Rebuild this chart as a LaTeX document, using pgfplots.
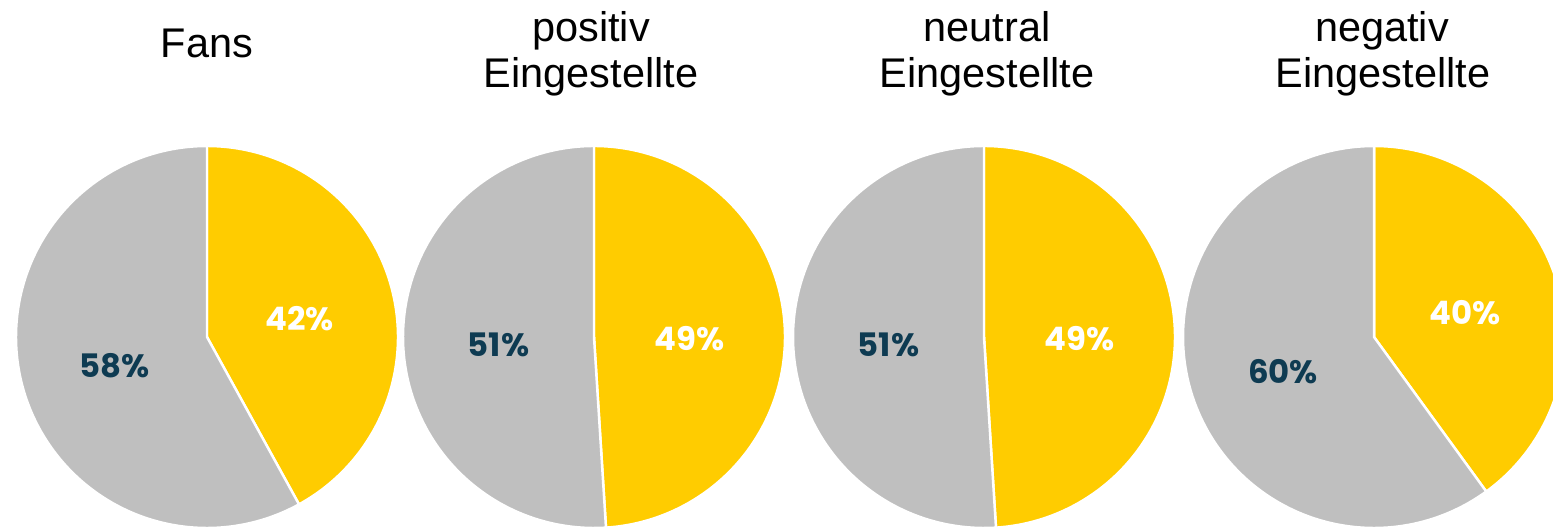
\documentclass[border=0pt]{standalone}
\usepackage{pgfplots}
\pgfplotsset{compat=1.18}
\usepackage{fontspec}
\setmainfont{Liberation Sans}
\newfontfamily\labelfont{Poppins}
\definecolor{pieyellow}{HTML}{FFCC00}
\definecolor{piegray}{HTML}{BFBFBF}
\definecolor{piedark}{HTML}{0E3B52}

% #1 cx (mm), #2 cy (mm), #3 yellow share, #4 gray share
\newcommand{\pie}[4]{%
\pgfmathsetmacro{\aend}{90-3.6*#3}%
\pgfmathsetmacro{\gend}{90-3.6*#3-3.6*#4}%
\pgfmathsetmacro{\ymid}{90-1.8*#3}%
\pgfmathsetmacro{\gmid}{90-3.6*#3-1.8*#4}%
\begin{axis}[at={(#1,#2)}, anchor=center, scale only axis,
  width=38.2mm, height=38.2mm, xmin=-1, xmax=1, ymin=-1, ymax=1,
  hide axis, clip=false]
\addplot[fill=pieyellow, draw=white, line width=0.7pt, domain=\aend:90,
  samples=181, variable=\t] ({cos(\t)},{sin(\t)}) -- (axis cs:0,0) -- cycle;
\addplot[fill=piegray, draw=white, line width=0.7pt, domain=\gend:\aend,
  samples=181, variable=\t] ({cos(\t)},{sin(\t)}) -- (axis cs:0,0) -- cycle;
\node[font=\labelfont\bfseries\fontsize{9.2}{11}\selectfont, text=white, yshift=-0.5mm]
  at (axis cs:{0.5*cos(\ymid)},{0.5*sin(\ymid)}) {#3\%};
\node[font=\labelfont\bfseries\fontsize{9.2}{11}\selectfont, text=piedark, yshift=-0.5mm]
  at (axis cs:{0.5*cos(\gmid)},{0.5*sin(\gmid)}) {#4\%};
\end{axis}}

\begin{document}
\begin{tikzpicture}
\useasboundingbox (0,0) rectangle (155.3mm,53.1mm);
\clip (0,0) rectangle (155.3mm,53.1mm);
\pie{20.7mm}{19.4mm}{42}{58}
\pie{59.4mm}{19.4mm}{49}{51}
\pie{98.4mm}{19.4mm}{49}{51}
\pie{137.4mm}{19.4mm}{40}{60}
\begin{scope}[every node/.style={anchor=base, inner sep=0pt, font=\fontsize{11.8}{14}\selectfont}]
\node at (20.7mm,47.3mm) {Fans};
\node at (59.1mm,48.9mm) {positiv};
\node at (59.1mm,44.3mm) {Eingestellte};
\node at (98.7mm,48.9mm) {neutral};
\node at (98.7mm,44.3mm) {Eingestellte};
\node at (138.2mm,48.9mm) {negativ};
\node at (138.3mm,44.3mm) {Eingestellte};
\end{scope}
\end{tikzpicture}
\end{document}
